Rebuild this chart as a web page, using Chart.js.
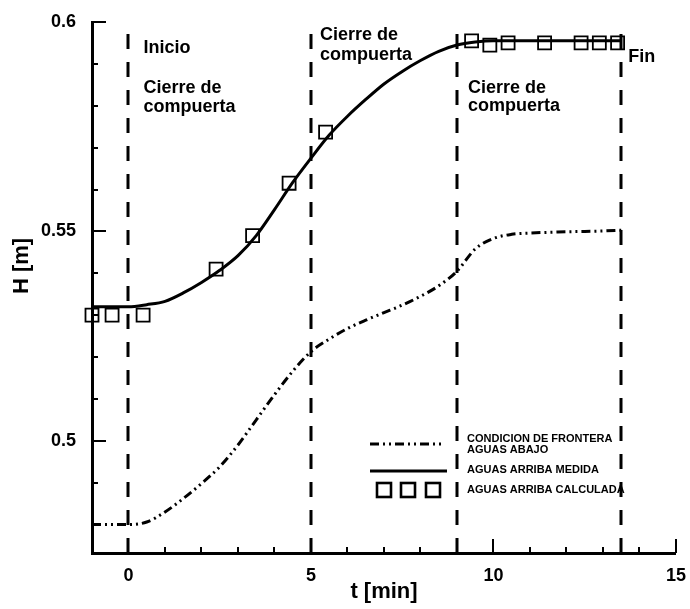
<!DOCTYPE html>
<html><head><meta charset="utf-8">
<script src="https://cdn.jsdelivr.net/npm/chart.js@4.4.1/dist/chart.umd.min.js"></script>
<style>html,body{margin:0;padding:0;background:#fff}#wrap{width:690px;height:609px}</style>
</head><body><div id="wrap"><canvas id="c" width="690" height="609"></canvas></div>
<script>
// ---- data ----
const xTickLabels = ['0', '5', '10', '15'];
const yTickLabels = ['0.5', '0.55', '0.6'];
const eventTimes = [0, 5, 9, 13.5];

const measuredT = [-1, 0, 0.5, 1, 1.5, 2, 2.5, 3, 3.5, 4, 4.5, 5, 5.5, 6, 6.5, 7, 7.5, 8, 8.5, 9, 9.5, 10, 11, 12, 13, 13.5];
const measuredH = [0.532, 0.532, 0.5325, 0.5333, 0.5353, 0.5378, 0.5407, 0.5442, 0.549, 0.5552, 0.5617, 0.5675, 0.573, 0.5775, 0.5815, 0.5852, 0.5882, 0.5908, 0.593, 0.5945, 0.5952, 0.5955, 0.5955, 0.5955, 0.5955, 0.5955];

const downstreamT = [-1, 0, 0.5, 1, 1.5, 2, 2.5, 3, 3.5, 4, 4.5, 5, 5.5, 6, 6.5, 7, 7.5, 8, 8.5, 9, 9.5, 10, 10.5, 11, 12, 13, 13.5];
const downstreamH = [0.48, 0.48, 0.4806, 0.483, 0.4862, 0.4898, 0.4938, 0.499, 0.505, 0.511, 0.5166, 0.5213, 0.5243, 0.5268, 0.5288, 0.5306, 0.5324, 0.5345, 0.537, 0.5405, 0.5458, 0.5483, 0.5493, 0.5496, 0.5499, 0.5501, 0.5503];

const calcT = [-1, -0.45, 0.4, 2.4, 3.4, 4.4, 5.4, 9.4, 9.9, 10.4, 11.4, 12.4, 12.9, 13.4];
const calcH = [0.530, 0.530, 0.530, 0.541, 0.549, 0.5615, 0.5737, 0.5955, 0.5945, 0.595, 0.595, 0.595, 0.595, 0.595];

const seriesNames = ['CONDICION DE FRONTERA|AGUAS ABAJO', 'AGUAS ARRIBA MEDIDA', 'AGUAS ARRIBA CALCULADA'];
const noteLines = [['Inicio', 'Cierre de', 'compuerta'], ['Cierre de', 'compuerta'], ['Cierre de', 'compuerta'], ['Fin']];

const pts = (xs, ys) => xs.map((x, i) => ({x: x, y: ys[i]}));

const FAM = '"Liberation Sans", Arial, sans-serif';

const decor = {
  id: 'decor',
  beforeDatasetsDraw(chart) {
    const ctx = chart.ctx, xs = chart.scales.x, ys = chart.scales.y, ca = chart.chartArea;
    ctx.save();
    ctx.strokeStyle = '#000'; ctx.lineWidth = 3; ctx.setLineDash([15, 13]);
    eventTimes.forEach(t => {
      const px = Math.round(xs.getPixelForValue(t));
      ctx.beginPath(); ctx.moveTo(px, ca.bottom); ctx.lineTo(px, ca.top + 2); ctx.stroke();
    });
    ctx.setLineDash([]);
    ctx.lineWidth = 2;
    for (let v = 48; v <= 60; v++) {
      const py = Math.round(ys.getPixelForValue(v / 100));
      const len = (v % 5 === 0) ? 14 : 6;
      ctx.beginPath(); ctx.moveTo(ca.left, py); ctx.lineTo(ca.left + len, py); ctx.stroke();
    }
    for (let v = 0; v <= 15; v++) {
      const px = Math.round(xs.getPixelForValue(v));
      const len = (v % 5 === 0) ? 14 : 6;
      ctx.beginPath(); ctx.moveTo(px, ca.bottom); ctx.lineTo(px, ca.bottom - len); ctx.stroke();
    }
    ctx.restore();
  },
  afterDraw(chart) {
    const ctx = chart.ctx, xs = chart.scales.x, ca = chart.chartArea;
    ctx.save();
    ctx.fillStyle = '#000';
    ctx.font = 'bold 18px ' + FAM; ctx.textBaseline = 'middle'; ctx.textAlign = 'left';
    const noteDx = [15, 9, 11, 7];
    const noteY = [[48, 88, 107], [35, 55], [88, 106], [57]];
    noteLines.forEach((lines, i) => {
      const px = xs.getPixelForValue(eventTimes[i]) + noteDx[i];
      lines.forEach((l, k) => ctx.fillText(l, px, noteY[i][k]));
    });
    ctx.font = 'bold 22px ' + FAM; ctx.textAlign = 'center';
    ctx.fillText('t [min]', (ca.left + ca.right) / 2, 592);
    ctx.save();
    ctx.translate(22, 266); ctx.rotate(-Math.PI / 2);
    ctx.fillText('H [m]', 0, 0);
    ctx.restore();
    // legend
    const lx = 370, tx = 467;
    ctx.strokeStyle = '#000'; ctx.lineWidth = 3;
    ctx.setLineDash([9, 4, 2, 4, 2, 4]);
    ctx.beginPath(); ctx.moveTo(lx, 444); ctx.lineTo(lx + 72, 444); ctx.stroke();
    ctx.setLineDash([]);
    ctx.beginPath(); ctx.moveTo(lx, 471); ctx.lineTo(lx + 77, 471); ctx.stroke();
    ctx.lineWidth = 2.6;
    [384, 408, 433].forEach(cx => { ctx.strokeRect(cx - 7, 490 - 7, 14, 14); });
    ctx.font = 'bold 11px ' + FAM; ctx.textAlign = 'left';
    const n0 = seriesNames[0].split('|');
    ctx.fillText(n0[0], tx, 439);
    ctx.fillText(n0[1], tx, 450);
    ctx.fillText(seriesNames[1], tx, 470);
    ctx.fillText(seriesNames[2], tx, 490);
    ctx.restore();
  }
};

new Chart(document.getElementById('c'), {
  type: 'scatter',
  data: {
    datasets: [
      { label: seriesNames[0], data: pts(downstreamT, downstreamH), showLine: true, borderColor: '#000', borderWidth: 3,
        borderDash: [9, 4, 2, 4, 2, 4], pointRadius: 0, cubicInterpolationMode: 'monotone', clip: false },
      { label: seriesNames[1], data: pts(measuredT, measuredH), showLine: true, borderColor: '#000', borderWidth: 3,
        pointRadius: 0, cubicInterpolationMode: 'monotone', clip: false },
      { label: seriesNames[2], data: pts(calcT, calcH), showLine: false, pointStyle: 'rect', pointRadius: 9.2,
        pointBorderWidth: 1.8, pointBorderColor: '#000', pointBackgroundColor: 'rgba(0,0,0,0)', clip: false }
    ]
  },
  options: {
    responsive: false, animation: false, devicePixelRatio: 1,
    layout: { padding: { top: 22, right: 9, left: 0, bottom: 0 } },
    plugins: { legend: { display: false }, tooltip: { enabled: false } },
    scales: {
      x: { type: 'linear', min: -1, max: 15,
        grid: { display: false }, border: { display: true, width: 3, color: '#000' },
        ticks: { stepSize: 5, includeBounds: false, color: '#000', padding: 4, font: { family: FAM, size: 18, weight: 'bold' },
          callback: (v) => { const i = [0, 5, 10, 15].indexOf(v); return i >= 0 ? xTickLabels[i] : ''; } },
        afterFit: (s) => { s.height = 56; } },
      y: { type: 'linear', min: 0.4732, max: 0.6,
        grid: { display: false }, border: { display: true, width: 3, color: '#000' },
        ticks: { stepSize: 0.05, includeBounds: false, color: '#000', padding: 8, font: { family: FAM, size: 18, weight: 'bold' },
          callback: (v) => { const r = Math.round(v * 100); const i = [50, 55, 60].indexOf(r); return i >= 0 ? yTickLabels[i] : ''; } },
        afterFit: (s) => { s.width = 92; } }
    }
  },
  plugins: [decor]
});
</script></body></html>
